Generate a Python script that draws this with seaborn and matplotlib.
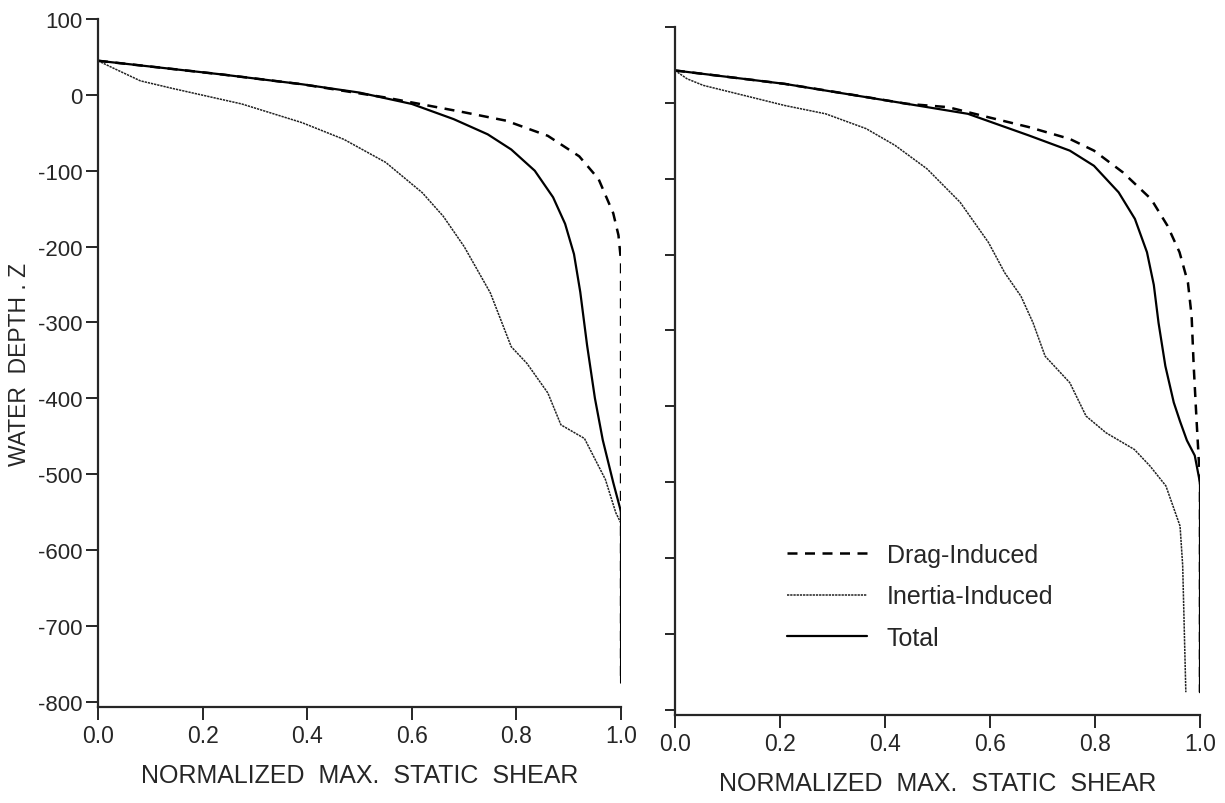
import numpy as np
import pandas as pd
import matplotlib
matplotlib.use("Agg")
import matplotlib.pyplot as plt
import seaborn as sns

# left panel
left_drag_x = [0.0, 0.236, 0.39, 0.55, 0.70, 0.78, 0.86, 0.92, 0.957, 0.985, 0.995, 1.0, 1.0, 1.0]
left_drag_y = [45, 27, 14, -3.5, -23, -34, -54, -81, -111, -156, -185, -220, -530, -775]
left_inertia_x = [0.0, 0.027, 0.081, 0.143, 0.275, 0.39, 0.47, 0.55, 0.62, 0.66, 0.70, 0.75,
                  0.79, 0.82, 0.86, 0.885, 0.93, 0.97, 0.99, 1.0, 1.0]
left_inertia_y = [45, 36, 18.5, 8.4, -12, -36.6, -58.6, -89, -129, -160, -200, -261,
                  -332, -354, -393, -435, -453, -507, -551, -565, -775]
left_total_x = [0.0, 0.236, 0.39, 0.50, 0.60, 0.68, 0.745, 0.79, 0.835, 0.87, 0.893, 0.91,
                0.922, 0.935, 0.95, 0.965, 0.985, 1.0, 1.0]
left_total_y = [45, 27, 14, 3, -12, -32, -52, -72, -100, -135, -170, -210,
                -260, -330, -400, -455, -511, -550, -775]

# right panel
right_drag_x = [0.0, 0.209, 0.326, 0.442, 0.52, 0.597, 0.674, 0.752, 0.798, 0.853, 0.907,
                0.938, 0.961, 0.977, 0.984, 0.988, 0.993, 1.0, 1.0]
right_drag_y = [42.7, 25, 12, -1.3, -5.7, -19, -32, -47.6, -63, -91.6, -127,
                -162, -197, -237, -281, -347, -413, -500, -777]
right_inertia_x = [0.0, 0.023, 0.054, 0.132, 0.209, 0.287, 0.364, 0.419, 0.48, 0.543, 0.597,
                   0.628, 0.659, 0.682, 0.705, 0.752, 0.783, 0.821, 0.875, 0.905, 0.935,
                   0.962, 0.967, 0.973]
right_inertia_y = [42.7, 31.7, 23, 9.7, -3.5, -14.5, -34, -56, -87, -131, -184,
                   -224, -255, -290, -334, -369, -413, -435, -457, -479, -505,
                   -558, -610, -777]
right_total_x = [0.0, 0.209, 0.442, 0.558, 0.674, 0.752, 0.798, 0.845, 0.876, 0.899, 0.912,
                 0.921, 0.934, 0.95, 0.962, 0.975, 0.99, 1.0, 1.0]
right_total_y = [42.7, 25, -1.3, -14.5, -43, -63, -83, -118, -153, -197, -240,
                 -290, -347, -395, -420, -445, -465, -501, -777]

x_ticks = [0.0, 0.2, 0.4, 0.6, 0.8, 1.0]
y_ticks = [100, 0, -100, -200, -300, -400, -500, -600, -700, -800]

sns.set_style("ticks")
plt.rcParams['font.family'] = ['Liberation Sans', 'DejaVu Sans']
plt.rcParams['axes.unicode_minus'] = False

fig = plt.figure(figsize=(12.25, 8.04), dpi=100)
ax1 = fig.add_axes([0.080, 0.1194, 0.427, 0.8557])
ax2 = fig.add_axes([0.551, 0.1095, 0.4286, 0.8557])

styles = {
    'Drag-Induced': dict(color='black', lw=1.8, dashes=(4, 3)),
    'Inertia-Induced': dict(color='#222222', lw=1.1, dashes=(1.5, 0.6)),
    'Total': dict(color='black', lw=1.6),
}

panels = [
    (ax1, left_drag_x, left_drag_y, left_inertia_x, left_inertia_y, left_total_x, left_total_y),
    (ax2, right_drag_x, right_drag_y, right_inertia_x, right_inertia_y, right_total_x, right_total_y),
]

for ax, dx, dy, ix, iy, tx, ty in panels:
    for name, xs, ys in [('Drag-Induced', dx, dy), ('Inertia-Induced', ix, iy), ('Total', tx, ty)]:
        df = pd.DataFrame({'shear': xs, 'depth': ys})
        st = styles[name]
        sns.lineplot(data=df, x='shear', y='depth', sort=False, estimator=None, ax=ax,
                     color=st['color'], lw=st['lw'], label=name)
        if 'dashes' in st:
            ax.lines[-1].set_dashes(st['dashes'])
    ax.set_xlim(0, 1.0)
    ax.set_ylim(-807, 100)
    ax.set_xticks(x_ticks)
    ax.set_xticklabels([f"{t:.1f}" for t in x_ticks])
    ax.set_yticks(y_ticks)
    sns.despine(ax=ax)
    for s in ['left', 'bottom']:
        ax.spines[s].set_linewidth(1.6)
    ax.tick_params(axis='both', direction='out', length=9, width=1.4, labelsize=16.5, pad=3)
    ax.set_xlabel("NORMALIZED  MAX.  STATIC  SHEAR", fontsize=18, labelpad=12)
    ax.set_ylabel("")
    if ax.get_legend():
        ax.get_legend().remove()

ax1.set_yticklabels([str(t) for t in y_ticks])
ax1.tick_params(axis='y', labelsize=16, pad=2)
ax1.set_ylabel("WATER  DEPTH . Z", fontsize=16.5)
ax1.yaxis.set_label_coords(-0.128, 0.5)
ax2.set_yticklabels([])
ax2.tick_params(axis='y', length=7)

handles = ax2.lines[:3]
ax2.legend(handles, ['Drag-Induced', 'Inertia-Induced', 'Total'], loc='upper left',
           bbox_to_anchor=(0.17, 0.283), frameon=False, fontsize=18,
           handlelength=3.2, handletextpad=0.8, labelspacing=0.7)

fig.savefig("out.png", dpi=100)
